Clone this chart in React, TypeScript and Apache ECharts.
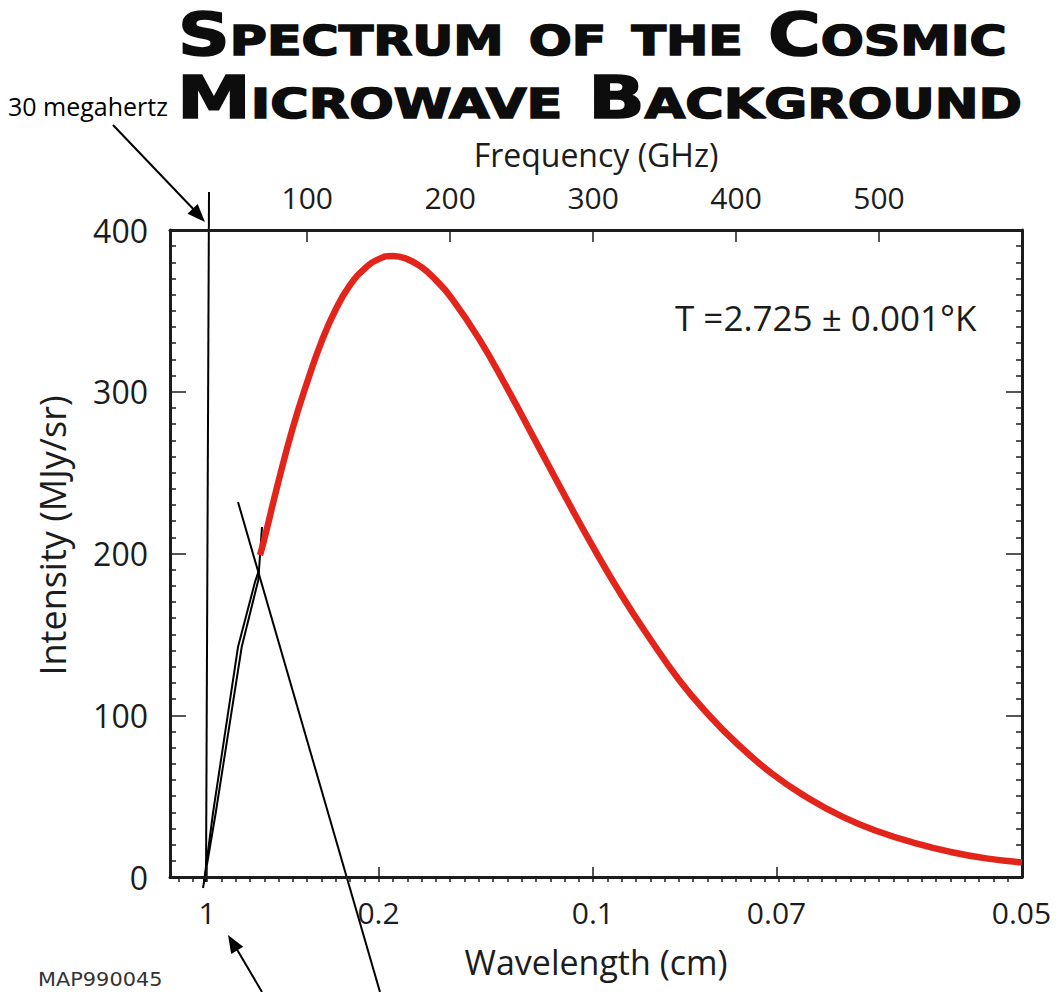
import React, { useEffect, useRef } from 'react';
import * as echarts from 'echarts';

// ---- data ----
const frequencyGHz = [67, 70, 80, 90, 100, 110, 120, 130, 140, 150, 160, 170, 180, 190, 200, 220, 240, 260, 280, 300, 320, 340, 360, 380, 400, 425, 450, 475, 500, 525, 550, 575, 600];
const intensityMJySr = [199, 209, 245, 278, 306, 331, 351, 366, 376, 382, 384, 382, 377, 369, 359, 333, 302, 269, 236, 204, 174, 147, 122, 101, 83, 64, 49, 37, 28, 21, 15.5, 11.5, 9];

const intensityRange = [0, 400];
const intensityStep = 100;
const frequencyRange = [4, 600];
const frequencyMajorTicks = [100, 200, 300, 400, 500];
const frequencyMinorStep = 10;
const wavelengthTicksCm = [1, 0.2, 0.1, 0.07, 0.05];
const wavelengthTickLabels = ['1', '0.2', '0.1', '0.07', '0.05'];
const SPEED_OF_LIGHT_GHZ_CM = 29.9792458;

const titleLines = ['Spectrum of the Cosmic', 'Microwave Background'];
const temperatureNote = 'T =2.725 \u00b1 0.001\u00b0K';
const frequencyNote = '30 megahertz';
const figureId = 'MAP990045';

const FONT = '"Open Sans", "Noto Sans", sans-serif';
const INK = '#1c1c1c';

export default function App() {
  const ref = useRef<HTMLDivElement>(null);

  useEffect(() => {
    if (!ref.current) return;
    const chart = echarts.init(ref.current, undefined, { renderer: 'svg' });

    const wavelengthPositions = wavelengthTicksCm.map((l) => SPEED_OF_LIGHT_GHZ_CM / l);
    const minorTicks: number[] = [];
    for (let f = frequencyMinorStep; f < frequencyRange[1]; f += frequencyMinorStep) minorTicks.push(f);

    const axisLine = { show: true, onZero: false, lineStyle: { color: INK, width: 3 } };

    const line = (x1: number, y1: number, x2: number, y2: number) => ({
      type: 'line',
      shape: { x1, y1, x2, y2 },
      style: { stroke: '#000', lineWidth: 2 },
      silent: true,
    });
    const arrowHead = (tx: number, ty: number, fx: number, fy: number) => {
      const dx = tx - fx;
      const dy = ty - fy;
      const len = Math.hypot(dx, dy);
      const ux = dx / len;
      const uy = dy / len;
      const bx = tx - 18 * ux;
      const by = ty - 18 * uy;
      return {
        type: 'polygon',
        shape: { points: [[tx, ty], [bx - 7 * uy, by + 7 * ux], [bx + 7 * uy, by - 7 * ux]] },
        style: { fill: '#000' },
        silent: true,
      };
    };
    const titleStyle = (text: string) => ({
      text,
      font: 'small-caps bold 58px "DejaVu Sans"',
      fill: '#0d0d0d',
      stroke: '#0d0d0d',
      lineWidth: 1.6,
      align: 'left',
      verticalAlign: 'middle',
      textAlign: 'left',
      textVerticalAlign: 'middle',
    });

    const option: any = {
      animation: false,
      backgroundColor: '#ffffff',
      grid: { left: 170, right: 35, top: 230, bottom: 115, containLabel: false, outerBoundsMode: 'none' },
      xAxis: [
        {
          type: 'value',
          position: 'bottom',
          min: frequencyRange[0],
          max: frequencyRange[1],
          axisLine,
          splitLine: { show: false },
          axisTick: { show: true, inside: true, length: 10, customValues: wavelengthPositions, lineStyle: { color: INK, width: 1.5 } },
          axisLabel: {
            show: true,
            customValues: wavelengthPositions,
            margin: 20,
            fontSize: 30,
            fontFamily: FONT,
            color: INK,
            formatter: (v: number) => {
              let best = 0;
              wavelengthPositions.forEach((p, i) => {
                if (Math.abs(p - v) < Math.abs(wavelengthPositions[best] - v)) best = i;
              });
              return wavelengthTickLabels[best];
            },
          },
          name: 'Wavelength (cm)',
          nameLocation: 'middle',
          nameGap: 68,
          nameTextStyle: { fontSize: 34, fontFamily: FONT, color: INK },
        },
        {
          type: 'value',
          position: 'top',
          min: frequencyRange[0],
          max: frequencyRange[1],
          axisLine,
          splitLine: { show: false },
          axisTick: { show: true, inside: true, length: 12, customValues: frequencyMajorTicks, lineStyle: { color: INK, width: 1.5 } },
          axisLabel: { show: true, customValues: frequencyMajorTicks, margin: 18, fontSize: 30, fontFamily: FONT, color: INK },
          name: 'Frequency (GHz)',
          nameLocation: 'middle',
          nameGap: 60,
          nameTextStyle: { fontSize: 32, fontFamily: FONT, color: INK },
        },
        {
          type: 'value',
          position: 'top',
          min: frequencyRange[0],
          max: frequencyRange[1],
          axisLine: { show: false },
          splitLine: { show: false },
          axisTick: { show: true, inside: true, length: 5, customValues: minorTicks, lineStyle: { color: INK, width: 1.5 } },
          axisLabel: { show: false },
        },
      ],
      yAxis: [
        {
          type: 'value',
          position: 'left',
          min: intensityRange[0],
          max: intensityRange[1],
          interval: intensityStep,
          axisLine,
          splitLine: { show: false },
          axisTick: { show: true, inside: true, length: 16, lineStyle: { color: INK, width: 1.5 } },
          minorTick: { show: true, splitNumber: 10, length: 6, lineStyle: { color: INK, width: 1.5 } },
          axisLabel: { show: true, margin: 22, fontSize: 32, fontFamily: FONT, color: INK },
          name: 'Intensity (MJy/sr)',
          nameLocation: 'middle',
          nameGap: 100,
          nameRotate: 90,
          nameTextStyle: { fontSize: 36, fontFamily: FONT, color: INK, padding: [0, 0, 0, 36] },
        },
        {
          type: 'value',
          position: 'right',
          min: intensityRange[0],
          max: intensityRange[1],
          interval: intensityStep,
          axisLine,
          splitLine: { show: false },
          axisTick: { show: true, inside: true, length: 16, lineStyle: { color: INK, width: 1.5 } },
          minorTick: { show: true, splitNumber: 10, length: 6, lineStyle: { color: INK, width: 1.5 } },
          axisLabel: { show: false },
        },
      ],
      series: [
        {
          type: 'line',
          xAxisIndex: 0,
          yAxisIndex: 0,
          data: frequencyGHz.map((f, i) => [f, intensityMJySr[i]]),
          showSymbol: false,
          smooth: true,
          lineStyle: { color: '#e3241b', width: 6.5, cap: 'butt' },
          silent: true,
        },
      ],
      graphic: [
        { type: 'text', x: 178, y: 35, scaleX: 1.24, style: titleStyle(titleLines[0]), silent: true },
        { type: 'text', x: 177, y: 98, scaleX: 1.28, style: titleStyle(titleLines[1]), silent: true },
        {
          type: 'text',
          x: 8,
          y: 106,
          style: { text: frequencyNote, fontSize: 25, fontFamily: FONT, fill: '#000', align: 'left', verticalAlign: 'middle', textAlign: 'left', textVerticalAlign: 'middle' },
          silent: true,
        },
        {
          type: 'text',
          x: 675,
          y: 317,
          style: { text: temperatureNote, fontSize: 35, fontFamily: FONT, fill: INK, align: 'left', verticalAlign: 'middle', textAlign: 'left', textVerticalAlign: 'middle' },
          silent: true,
        },
        {
          type: 'text',
          x: 38,
          y: 979,
          scaleX: 1.07,
          style: { text: figureId, fontSize: 19.5, fontFamily: '"DejaVu Sans", sans-serif', fill: '#333', align: 'left', verticalAlign: 'middle', textAlign: 'left', textVerticalAlign: 'middle' },
          silent: true,
        },
        line(113, 125, 199, 215),
        arrowHead(205, 222, 113, 125),
        line(209, 192, 206, 882),
        {
          type: 'polyline',
          shape: { points: [[203, 888], [215.7, 813], [241.7, 647], [258.3, 580], [262, 527]] },
          style: { stroke: '#000', lineWidth: 2, fill: null },
          silent: true,
        },
        {
          type: 'polyline',
          shape: { points: [[204, 882], [213, 813], [238, 647], [255, 582], [259, 570]] },
          style: { stroke: '#000', lineWidth: 2, fill: null },
          silent: true,
        },
        line(238, 502, 380, 992),
        line(262, 992, 232, 941),
        arrowHead(228, 935, 262, 992),
      ],
    };

    chart.setOption(option);
    return () => chart.dispose();
  }, []);

  return (
    <div
      ref={ref}
      style={{ position: 'fixed', left: 0, top: 0, width: 1057, height: 992, background: '#fff' }}
    />
  );
}
